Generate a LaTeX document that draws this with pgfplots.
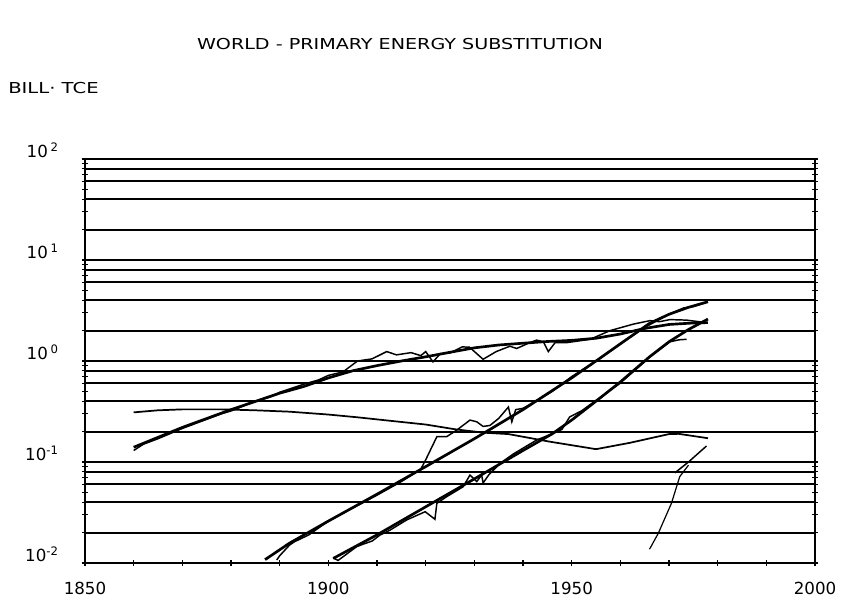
\documentclass[border=0pt]{standalone}
\usepackage{fontspec}
\setmainfont{DejaVu Sans}
\usepackage{pgfplots}
\pgfplotsset{compat=1.18}

\begin{document}
\begin{tikzpicture}
\useasboundingbox (0,0) rectangle (630.75pt,449.25pt);
\node at (300pt,416pt) {\fontsize{11.3}{13}\selectfont\scalebox{1.27}[1]{WORLD - PRIMARY ENERGY SUBSTITUTION}};
\node[anchor=west,inner sep=0pt] at (6pt,383pt) {\fontsize{11.3}{13}\selectfont\scalebox{1.3}[1]{BILL·\ TCE}};
\begin{axis}[
  at={(63.75pt,27pt)}, anchor=south west,
  scale only axis, width=547.5pt, height=303pt,
  xmin=1850, xmax=2000,
  ymode=log, ymin=0.01, ymax=100,
  xtick={1850,1900,1950,2000},
  xticklabels={1850,1900,1950,2000},
  minor xtick={1860,1870,1880,1890,1910,1920,1930,1940,1960,1970,1980,1990},
  ytick={0.01,0.1,1,10,100},
  yticklabels={10\textsuperscript{-2},10\textsuperscript{-1},10\,\textsuperscript{0},10\,\textsuperscript{1},10\,\textsuperscript{2}},
  minor ytick={0.02,0.03,0.04,0.05,0.06,0.07,0.08,0.09,0.2,0.3,0.4,0.5,0.6,0.7,0.8,0.9,2,3,4,5,6,7,8,9,20,30,40,50,60,70,80,90},
  extra y ticks={0.02,0.04,0.06,0.08,0.2,0.4,0.6,0.8,2,4,6,8,20,40,60,80},
  extra y tick labels={},
  extra y tick style={grid=major, major tick length=0pt},
  ymajorgrids=true,
  major grid style={black, line width=1.5pt},
  xtick pos=left,
  tick align=center,
  major tick length=5pt, minor tick length=4pt,
  every tick/.style={black, line width=0.9pt},
  axis line style={line width=0.9pt},
  ticklabel style={font=\fontsize{12.5}{14}\selectfont},
  xticklabel style={anchor=center, yshift=-16.5pt},
  yticklabel style={anchor=east, inner sep=0pt, xshift=-17pt, yshift=6.5pt},
  clip=false,
]
% wood
\addplot[black, line width=1.3pt] coordinates {
 (1860,0.31)(1865,0.325)(1870,0.332)(1878,0.332)(1885,0.325)(1892,0.315)
 (1900,0.295)(1906,0.277)(1913,0.255)(1920,0.235)(1926,0.211)(1932,0.195)
 (1937,0.189)(1945.5,0.159)(1955,0.134)(1962,0.155)(1970,0.189)(1972,0.19)(1978,0.172)
};
% coal, fit
\addplot[black, line width=2pt] coordinates {
 (1860,0.14)(1870,0.22)(1880,0.33)(1890,0.48)(1895,0.56)(1900,0.68)(1905,0.80)
 (1910,0.90)(1915,1.0)(1920,1.1)(1925,1.22)(1930,1.35)(1935,1.44)(1940,1.50)
 (1945,1.56)(1950,1.60)(1955,1.68)(1960,1.85)(1965,2.1)(1970,2.3)(1975,2.38)(1978,2.40)
};
% coal, data
\addplot[black, line width=1.1pt] coordinates {
 (1860,0.13)(1862,0.15)(1865,0.17)(1870,0.215)(1875,0.265)(1878,0.30)(1880,0.32)
 (1885,0.40)(1888,0.44)(1890,0.49)(1895,0.59)(1898,0.65)(1900,0.72)(1903,0.78)
 (1906,1.0)(1909,1.05)(1912,1.24)(1914,1.15)(1917,1.21)(1919,1.13)(1920,1.24)
 (1921.5,0.98)(1923,1.18)(1925,1.20)(1927.5,1.38)(1929,1.37)(1931.8,1.04)
 (1934.5,1.24)(1937.3,1.40)(1938.7,1.33)(1941.4,1.52)(1942.8,1.61)(1944.2,1.55)
 (1945.2,1.24)(1946.6,1.52)(1949,1.52)(1953.8,1.64)(1957.9,2.0)(1962.7,2.32)
 (1966.1,2.51)(1968,2.45)(1970.2,2.57)(1973.6,2.54)(1977,2.42)
};
% oil, fit
\addplot[black, line width=2pt] coordinates {
 (1887,0.0108)(1892,0.0157)(1900,0.026)(1910,0.048)(1920,0.09)(1930,0.17)
 (1933,0.207)(1940,0.33)(1943,0.41)(1950,0.68)(1955,1.0)(1960,1.48)(1966,2.36)
 (1970,2.9)(1974,3.4)(1978,3.86)
};
% oil, data
\addplot[black, line width=1.1pt] coordinates {
 (1889.4,0.0107)(1890,0.0118)(1892,0.0150)(1893,0.0162)(1896,0.019)(1900,0.026)
 (1905,0.035)(1910,0.047)(1915,0.064)(1919,0.085)(1920,0.105)(1922.3,0.178)
 (1924.3,0.178)(1926.4,0.207)(1929.1,0.26)(1930.5,0.25)(1931.8,0.225)(1933.2,0.23)
 (1935,0.27)(1937,0.35)(1937.7,0.25)(1938.5,0.33)(1940,0.34)(1943,0.41)(1946,0.50)
 (1950,0.70)(1955,1.0)(1960,1.47)(1965,2.15)(1970,2.9)(1973,3.35)(1975,3.45)(1978,3.85)
};
% gas, fit
\addplot[black, line width=2pt] coordinates {
 (1901,0.0111)(1910,0.019)(1920,0.036)(1930,0.068)(1940,0.13)(1946,0.19)
 (1950,0.26)(1955,0.40)(1960,0.62)(1966,1.1)(1970,1.55)(1974,2.05)(1978,2.6)
};
% gas, data
\addplot[black, line width=1.1pt] coordinates {
 (1901,0.0112)(1902,0.0106)(1904,0.0125)(1905.8,0.0145)(1907.2,0.0154)(1909,0.0165)
 (1910.6,0.0189)(1912.7,0.0212)(1916.1,0.0267)(1919.9,0.0322)(1921.9,0.0271)
 (1922.3,0.039)(1924.3,0.0453)(1927.7,0.0569)(1929.1,0.0743)(1930.5,0.064)
 (1931.5,0.0743)(1931.8,0.062)(1933,0.075)(1935.3,0.097)(1938,0.12)(1942.8,0.165)
 (1946.2,0.192)(1948,0.21)(1949.6,0.28)(1952,0.32)(1955.1,0.41)(1959.9,0.60)
 (1966.1,1.10)(1970.2,1.55)(1972,1.62)(1973.6,1.64)
};
% nuclear, data
\addplot[black, line width=0.9pt] coordinates {
 (1966,0.0137)(1967.8,0.0197)(1970.5,0.039)(1972.2,0.0716)(1974,0.093)
};
% nuclear, fit
\addplot[black, line width=1.1pt] coordinates {
 (1971.2,0.078)(1974,0.10)(1977.7,0.144)
};
\end{axis}
\end{tikzpicture}
\end{document}
